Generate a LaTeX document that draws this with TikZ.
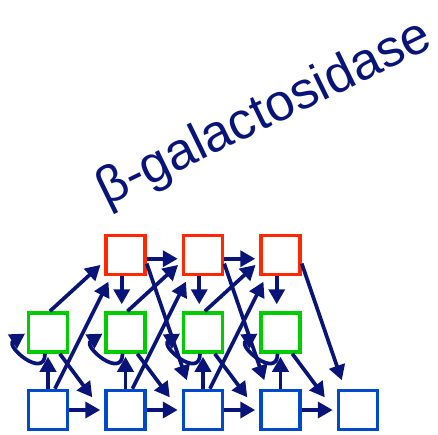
\documentclass[tikz,border=0pt]{standalone}
\usepackage{fontspec}
\setmainfont{Liberation Sans}
\usetikzlibrary{arrows.meta}
\definecolor{boxred}{RGB}{255,40,0}
\definecolor{boxgreen}{RGB}{0,205,0}
\definecolor{boxblue}{RGB}{0,72,204}
\definecolor{navy}{RGB}{8,20,120}
\tikzset{
  unit/.style={draw, fill=white, line width=3.5pt, minimum size=39pt,
    inner sep=0pt, outer sep=1.75pt},
  redunit/.style={unit, draw=boxred},
  greenunit/.style={unit, draw=boxgreen},
  blueunit/.style={unit, draw=boxblue},
  arr/.style={draw=navy, line width=3.7pt,
    -{Triangle[length=15pt,width=16pt]}},
  title/.style={text=navy, font=\fontsize{52}{52}\selectfont, inner sep=0pt}
}
\begin{document}
\begin{tikzpicture}[x=1pt, y=-1pt]
\useasboundingbox (0,0) rectangle (438,435);

% rotated heading
\node[title, rotate=26, anchor=base west] (head) at (106,207) {β-galactosidase};

% three layers of units
\node[redunit] (R2) at (125.5,255) {};
\node[redunit] (R3) at (203,255) {};
\node[redunit] (R4) at (280.5,255) {};
\node[greenunit] (G1) at (48,332.5) {};
\node[greenunit] (G2) at (125.5,332.5) {};
\node[greenunit] (G3) at (203,332.5) {};
\node[greenunit] (G4) at (280.5,332.5) {};
\node[blueunit] (B1) at (48,410) {};
\node[blueunit] (B2) at (125.5,410) {};
\node[blueunit] (B3) at (203,410) {};
\node[blueunit] (B4) at (280.5,410) {};
\node[blueunit] (B5) at (358,410) {};

% horizontal links
\foreach \a/\b in {R2/R3,R3/R4}
  \draw[arr, shorten >=4pt] (\a.-10) -- (\b.190);
\foreach \a/\b in {B1/B2,B2/B3,B3/B4,B4/B5}
  \draw[arr, shorten >=4pt] (\a.east) -- (\b.west);

% vertical links
\foreach \k in {2,3,4}
  \draw[arr, shorten >=7pt] (R\k.-100) -- (G\k.100);
\foreach \k in {1,2,3,4}
  \draw[arr, shorten >=3pt] (B\k.north) -- (G\k.south);

% diagonal links
\foreach \a/\b in {G1/R2,G2/R3,G3/R4}
  \draw[arr, shorten >=5pt] (\a.85) -- (\b.197);
\foreach \a/\b in {B1/R2,B2/R3,B3/R4}
  \draw[arr, shorten >=6pt] (\a.72) -- (\b.236);
\foreach \a/\b in {G1/B2,G2/B3,G3/B4,G4/B5}
  \draw[arr, shorten >=20pt] (\a.-61) -- (\b.189);
\foreach \a/\b in {R2/B3,R3/B4,R4/B5}
  \draw[arr, shorten >=9pt] (\a.-22) -- (\b.122);

% self loops on the middle layer
\foreach \k in {1,2,3,4}
  \draw[arr, shorten >=2pt] (G\k.-98) .. controls +(0,26) and +(-22,14) .. (G\k.west);
\end{tikzpicture}
\end{document}
